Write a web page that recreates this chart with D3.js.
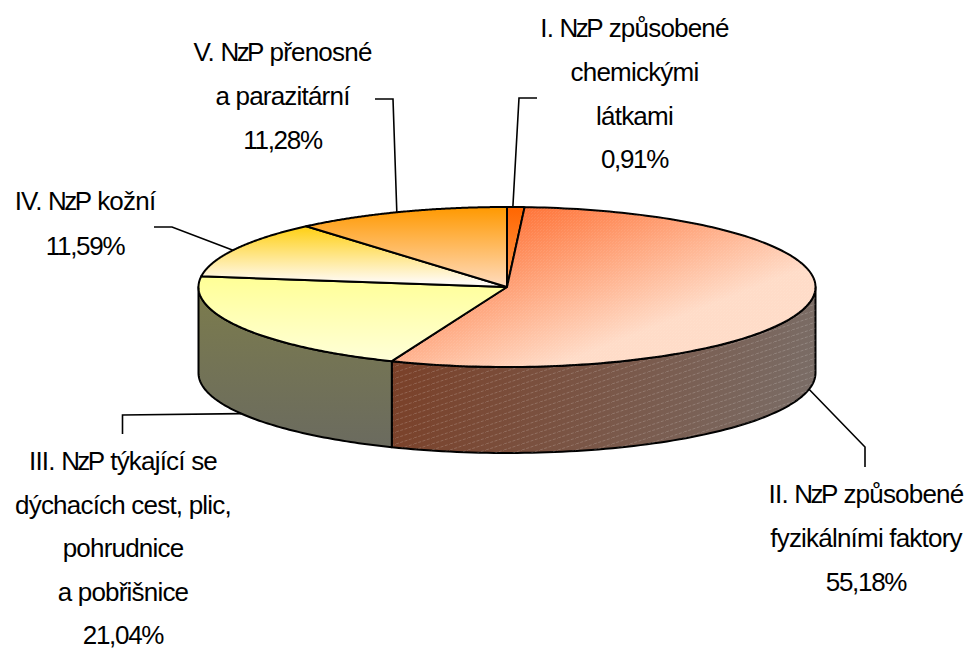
<!DOCTYPE html>
<html><head><meta charset="utf-8">
<script src="https://cdn.jsdelivr.net/npm/d3@7"></script>
<style>html,body{margin:0;padding:0;background:#fff}svg{display:block}
text{font-family:"Liberation Sans",Arial,sans-serif;font-size:26px;letter-spacing:-.8px;fill:#000;text-anchor:middle}</style>
</head><body><svg id="c" width="965" height="650"></svg>
<script>
const names=["I. NzP způsobené chemickými látkami","II. NzP způsobené fyzikálními faktory","III. NzP týkající se dýchacích cest, plic, pohrudnice a pobřišnice","IV. NzP kožní","V. NzP přenosné a parazitární"];
const values=[0.91,55.18,21.04,11.59,11.28];
const valueLabels=["0,91%","55,18%","21,04%","11,59%","11,28%"];
const labelLines=[["I. NzP způsobené","chemickými","látkami"],["II. NzP způsobené","fyzikálními faktory"],["III. NzP týkající se","dýchacích cest, plic,","pohrudnice","a pobřišnice"],["IV. NzP kožní"],["V. NzP přenosné","a parazitární"]];
const topColors=[["#ff6600","#ff9a50"],["#ff7033","#ffdcc8"],["#ffff99","#ffffd8"],["#ffcc00","#fffaf2"],["#ff9900","#ffdcc0"]];
const sideColors=[["#803300","#806040"],["#7a4028","#7a6e68"],["#7c7c4c","#6a6a60"],["#806600","#807060"],["#804c00","#806050"]];

const cx=507,cy=287,rx=308.5,ry=80,depth=86;
const svg=d3.select("#c"),defs=svg.append("defs");
const pie=d3.pie().value(d=>d).sort(null);
const arcs=pie(values);
const X=a=>cx+rx*Math.sin(a),Y=a=>cy-ry*Math.cos(a);

const topGrad=[[0,207,0,287],[510,207,570,360],[0,280,0,361],[0,222,0,282],[0,207,0,287]];
topColors.forEach((c,i)=>{
  const g=defs.append("linearGradient").attr("id","t"+i).attr("gradientUnits","userSpaceOnUse")
    .attr("x1",topGrad[i][0]).attr("y1",topGrad[i][1]).attr("x2",topGrad[i][2]).attr("y2",topGrad[i][3]);
  g.append("stop").attr("offset",0).attr("stop-color",c[0]);
  g.append("stop").attr("offset",1).attr("stop-color",c[1]);
});
sideColors.forEach((c,i)=>{
  const g=defs.append("linearGradient").attr("id","s"+i).attr("gradientUnits","userSpaceOnUse")
    .attr("x1",0).attr("y1",285).attr("x2",0).attr("y2",455);
  if(i===1)g.attr("x1",390).attr("y1",360).attr("x2",815).attr("y2",440);
  g.append("stop").attr("offset",0).attr("stop-color",c[0]);
  g.append("stop").attr("offset",1).attr("stop-color",c[1]);
});
const hatch=(id,op,w,h)=>{const p=defs.append("pattern").attr("id",id).attr("patternUnits","userSpaceOnUse").attr("width",w).attr("height",h);
  p.append("path").attr("d",`M0 ${h}L${w} 0`).attr("stroke","#fff").attr("stroke-opacity",op).attr("stroke-width",.8).attr("stroke-dasharray","3 1.5").attr("fill","none");};
hatch("hs",.22,18,6);hatch("ht",.1,3,3);

const frontRange=a=>{const s=Math.max(a.startAngle,Math.PI/2),e=Math.min(a.endAngle,Math.PI*1.5);return s<e?[s,e]:null;};
const sidePath=(s,e)=>{const p=d3.path();const n=80;
  p.moveTo(X(s),Y(s));
  d3.range(1,n+1).forEach(k=>{const t=s+(e-s)*k/n;p.lineTo(X(t),Y(t));});
  d3.range(n,-1,-1).forEach(k=>{const t=s+(e-s)*k/n;p.lineTo(X(t),Y(t)+depth);});
  p.closePath();return p.toString();};
const topPath=a=>{const p=d3.path();const n=160;p.moveTo(cx,cy);
  d3.range(0,n+1).forEach(k=>{const t=a.startAngle+(a.endAngle-a.startAngle)*k/n;p.lineTo(X(t),Y(t));});
  p.closePath();return p.toString();};

const gs=svg.append("g");
arcs.forEach((a,i)=>{const r=frontRange(a);if(!r)return;
  gs.append("path").attr("d",sidePath(r[0],r[1])).attr("fill",`url(#s${i})`).attr("stroke","#000").attr("stroke-width",2).attr("stroke-linejoin","round");
  if(i===1)gs.append("path").attr("d",sidePath(r[0],r[1])).attr("fill","url(#hs)");
});
const gt=svg.append("g");
gt.selectAll("path").data(arcs).join("path").attr("d",topPath).attr("fill",(d,i)=>`url(#t${i})`)
  .attr("stroke","#000").attr("stroke-width",2).attr("stroke-linejoin","round");
gt.append("path").attr("d",topPath(arcs[1])).attr("fill","url(#ht)");

// leader lines, anchored on the slice rim
const leaderAngle=[0.019,1.776,4.18,5.19,5.918];
const leaderDrop=[0,depth,depth,0,0];
const leaderBend=[[[537,98],[519,98]],[[865,467],[865,447]],[[122.5,434],[122.5,415]],[[154,227],[172,227]],[[375,99],[393,99]]];
const line=d3.line();
leaderBend.forEach((b,i)=>{const a=leaderAngle[i];
  svg.append("path").attr("d",line([...b,[X(a),Y(a)+leaderDrop[i]]])).attr("fill","none").attr("stroke","#000").attr("stroke-width",1.6);
});

// labels: "NzP" and the percentages are set tighter, as in the reference
const labelPos=[[634.5,37],[866,503],[123,470],[85,210],[282.5,61]];
const lineGaps=[43.8,44,43.5,44.5,43.8];
labelLines.forEach((ls,i)=>{
  const t=svg.append("text");
  ls.forEach((s,k)=>{
    const parts=s.split(/(Nz|P)(?=[P ])/).filter(p=>p);
    parts.forEach((p,j)=>{
      const sp=t.append("tspan").text(p);
      if(j===0)sp.attr("x",labelPos[i][0]).attr("y",labelPos[i][1]+k*lineGaps[i]);
      if(p==="Nz")sp.style("letter-spacing","-2.6px");
    });
  });
  t.append("tspan").attr("x",labelPos[i][0]).attr("y",labelPos[i][1]+ls.length*lineGaps[i]).style("letter-spacing","-1.3px").text(valueLabels[i]);
});
</script></body></html>
